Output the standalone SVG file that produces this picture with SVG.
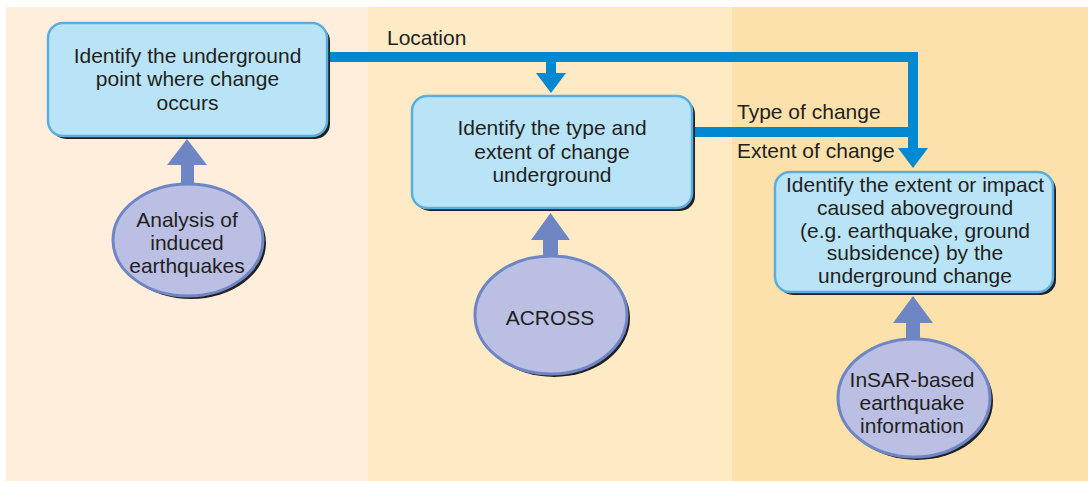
<svg xmlns="http://www.w3.org/2000/svg" width="1088" height="481" viewBox="0 0 1088 481">
<defs>
<style>
.box{fill:#B9E4F8;stroke:#5AAEDF;stroke-width:2.5}
.shadow{fill:#231F20}
.ell{fill:#BBBFE3;stroke:#6F86C5;stroke-width:3}
.t{font-family:"Liberation Sans",Arial,sans-serif;font-size:21px;fill:#231F20;text-anchor:middle}
.lbl{font-family:"Liberation Sans",Arial,sans-serif;font-size:21px;fill:#231F20}
.flow{fill:none;stroke:#0088D1;stroke-width:10}
.flowhead{fill:#0088D1}
.up{fill:#6F86C5}
</style>
</defs>
<rect x="0" y="0" width="1088" height="481" fill="#FFFFFF"/>
<rect x="6" y="7" width="362" height="474" fill="#FEEEDB"/>
<rect x="368" y="7" width="364" height="474" fill="#FEEBC6"/>
<rect x="732" y="7" width="356" height="474" fill="#FDE1AB"/>

<g id="connectors">
<polyline class="flow" points="327,57 913,57 913,150"/>
<line class="flow" x1="551" y1="57" x2="551" y2="75"/>
<polygon class="flowhead" points="536,73 566,73 551,93"/>
<polyline class="flow" points="692,132 913,132"/>
<polygon class="flowhead" points="898,148 928,148 913,168"/>
<rect class="up" x="181" y="163" width="13" height="24"/>
<polygon class="up" points="167,165 207,165 187,139"/>
<rect class="up" x="543" y="238" width="15" height="22"/>
<polygon class="up" points="531,240 570,240 550.5,213"/>
<rect class="up" x="906" y="321" width="14" height="22"/>
<polygon class="up" points="893,323 933,323 913,296"/>
<text class="lbl" x="387" y="45">Location</text>
<text class="lbl" x="737" y="119">Type of change</text>
<text class="lbl" x="737" y="158">Extent of change</text>
</g>

<g id="node-underground-point">
<rect class="shadow" x="51" y="26" width="279" height="113" rx="15"/>
<rect class="box" x="48" y="23" width="279" height="113" rx="15"/>
<text class="t" x="187.5" y="63">Identify the underground</text>
<text class="t" x="187.5" y="86">point where change</text>
<text class="t" x="187.5" y="110">occurs</text>
</g>

<g id="node-type-extent">
<rect class="shadow" x="415" y="99" width="280" height="112" rx="15"/>
<rect class="box" x="412" y="96" width="280" height="112" rx="15"/>
<text class="t" x="552" y="135">Identify the type and</text>
<text class="t" x="552" y="158.5">extent of change</text>
<text class="t" x="552" y="182">underground</text>
</g>

<g id="node-aboveground">
<rect class="shadow" x="778" y="175" width="278" height="120" rx="15"/>
<rect class="box" x="775" y="172" width="278" height="120" rx="15"/>
<text class="t" x="915" y="192">Identify the extent or impact</text>
<text class="t" x="915" y="214.5">caused aboveground</text>
<text class="t" x="915" y="237.5">(e.g. earthquake, ground</text>
<text class="t" x="915" y="260">subsidence) by the</text>
<text class="t" x="915" y="283">underground change</text>
</g>

<g id="node-induced-earthquakes">
<ellipse class="shadow" cx="191" cy="243" rx="75" ry="56"/>
<ellipse class="ell" cx="188" cy="240" rx="75" ry="56"/>
<text class="t" x="187" y="227">Analysis of</text>
<text class="t" x="187" y="250">induced</text>
<text class="t" x="187" y="273">earthquakes</text>
</g>

<g id="node-across">
<ellipse class="shadow" cx="554" cy="318" rx="76" ry="59"/>
<ellipse class="ell" cx="551" cy="315" rx="76" ry="59"/>
<text class="t" x="550" y="325">ACROSS</text>
</g>

<g id="node-insar">
<ellipse class="shadow" cx="917" cy="401" rx="76" ry="59"/>
<ellipse class="ell" cx="914" cy="398" rx="76" ry="59"/>
<text class="t" x="912" y="387">InSAR-based</text>
<text class="t" x="912" y="410">earthquake</text>
<text class="t" x="912" y="433">information</text>
</g>
</svg>
